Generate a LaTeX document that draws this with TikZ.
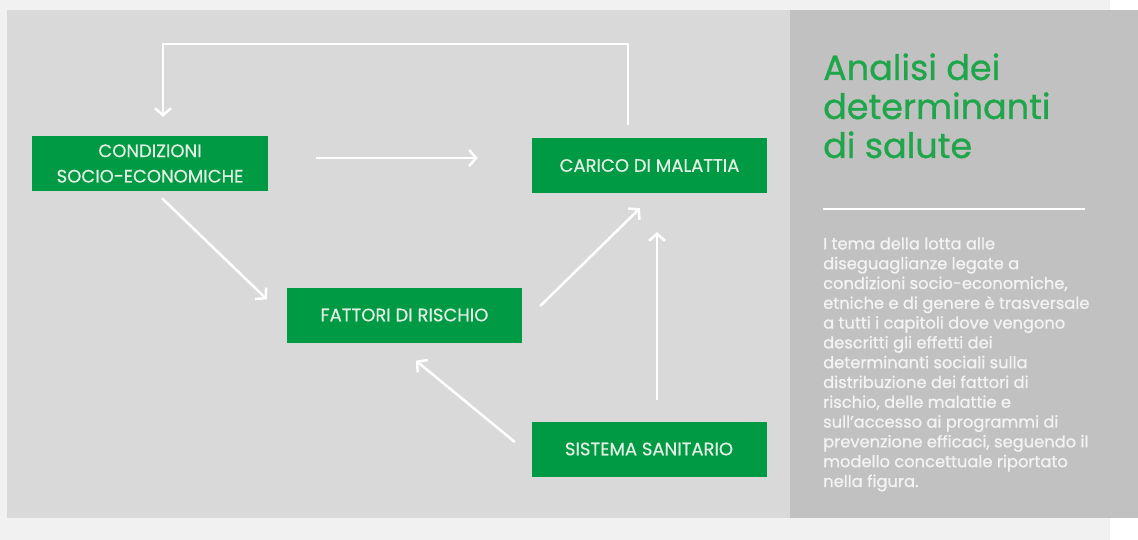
\documentclass[tikz,border=0pt]{standalone}
\usepackage{fontspec}
\setmainfont{Poppins}
\usetikzlibrary{arrows.meta}
\definecolor{outerbg}{HTML}{F1F1F1}
\definecolor{panelbg}{HTML}{D9D9D9}
\definecolor{sidebg}{HTML}{C1C1C1}
\definecolor{boxgreen}{HTML}{009A44}
\definecolor{titlegreen}{HTML}{1FA64B}
\definecolor{boxtext}{HTML}{E2EFE2}
\definecolor{paratext}{HTML}{F3F3F3}
\tikzset{
  box/.style={fill=boxgreen, text=boxtext, minimum width=235pt, minimum height=55pt,
    inner sep=0pt, align=center, font=\fontsize{18}{25.4}\selectfont\addfontfeatures{FakeBold=0.5}},
  arr/.style={draw=white, line width=2.5pt, -{Straight Barb[length=7pt,width=16pt,line width=2.5pt]}},
}
\begin{document}
\begin{tikzpicture}[x=1pt,y=-1pt]
\useasboundingbox (0,0) rectangle (1138,540);
\fill[white] (0,0) rectangle (1138,540);
\fill[outerbg] (0,0) rectangle (1110,540);
\fill[panelbg] (7,10) rectangle (790,518);
\fill[sidebg] (790,10) rectangle (1138,518);

\node[box, minimum width=236pt] (cond) at (150,163.5) {CONDIZIONI\\SOCIO-ECONOMICHE};
\node[box] (car) at (649.5,165.5) {CARICO DI MALATTIA};
\node[box] (fat) at (404.5,315) {FATTORI DI RISCHIO};
\node[box] (sis) at (649,449) {SISTEMA SANITARIO};

\draw[arr] ([shift={(-21.5,-13)}]car.north) -- ++(0,-81) -| ([shift={(13,-19)}]cond.north);
\draw[arr] ([shift={(48,-5.5)}]cond.east) -- ([shift={(-54,-7.5)}]car.west);
\draw[arr] ([shift={(12,7)}]cond.south) -- ([shift={(-20,12)}]fat.north west);
\draw[arr] ([shift={(18,-9)}]fat.east) -- ([shift={(-9.5,15)}]car.south);
\draw[arr] ([shift={(8,-21.5)}]sis.north) -- ([shift={(7.5,39)}]car.south);
\draw[arr] ([shift={(-16.5,-7)}]sis.west) -- ([shift={(11.5,18)}]fat.south);

\node[anchor=base west, inner sep=0pt, align=left, text=titlegreen,
  font=\fontsize{35}{39}\selectfont\addfontfeatures{FakeBold=0.8}] (title) at (823,158)
  {Analisi dei\\determinanti\\di salute};
\draw[white, line width=2.5pt] (823,209) -- (1085,209);
\node[anchor=base west, inner sep=0pt, align=left, text=paratext,
  font=\fontsize{16.3}{19.8}\selectfont\addfontfeatures{FakeBold=0.8}] (para) at (823,487)
  {I tema della lotta alle\\
diseguaglianze legate a\\
condizioni socio-economiche,\\
etniche e di genere è trasversale\\
a tutti i capitoli dove vengono\\
descritti gli effetti dei\\
determinanti sociali sulla\\
distribuzione dei fattori di\\
rischio, delle malattie e\\
sull'accesso ai programmi di\\
prevenzione efficaci, seguendo il\\
modello concettuale riportato\\
nella figura.};
\end{tikzpicture}
\end{document}
